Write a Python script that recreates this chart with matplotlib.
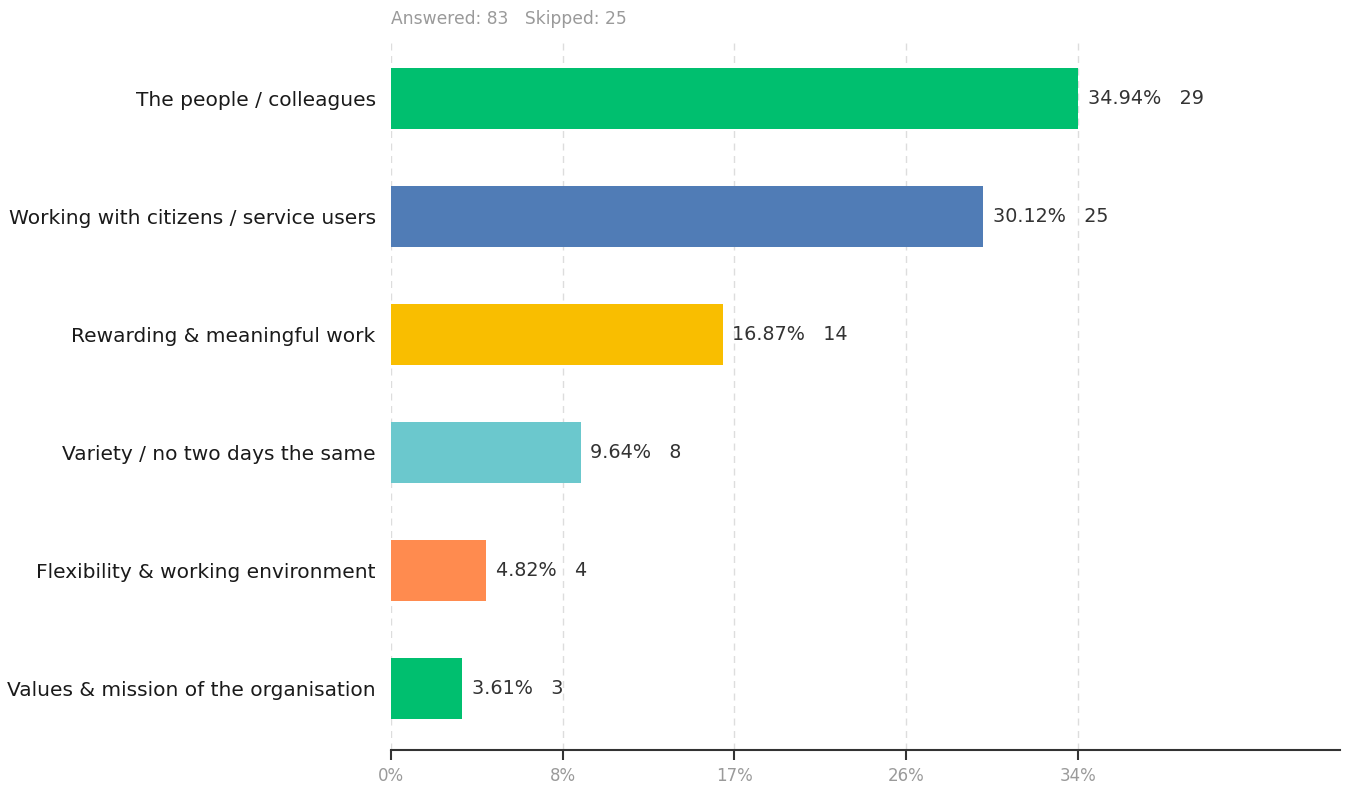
import matplotlib
matplotlib.use("Agg")
import matplotlib.pyplot as plt
import numpy as np

plt.rcParams['font.family'] = ['DejaVu Sans']

categories = [
    "The people / colleagues",
    "Working with citizens / service users",
    "Rewarding & meaningful work",
    "Variety / no two days the same",
    "Flexibility & working environment",
    "Values & mission of the organisation",
]
percentages = [34.94, 30.12, 16.87, 9.64, 4.82, 3.61]
counts = [29, 25, 14, 8, 4, 3]
colors = ["#00BF6F", "#507CB6", "#F9BE00", "#6BC8CD", "#FF8B4F", "#00BF6F"]
tick_values = [0, 34.94 / 4, 34.94 / 2, 34.94 * 3 / 4, 34.94]
tick_labels = ["0%", "8%", "17%", "26%", "34%"]
answered, skipped = 83, 25

fig = plt.figure(figsize=(13.46, 7.85), dpi=100)
ax = fig.add_axes([0.2905, 0.0446, 0.7050, 0.9070])

y = np.arange(len(categories))
ax.barh(y, percentages, height=0.517, color=colors, zorder=3)

for yi, p, c in zip(y, percentages, counts):
    ax.text(p + 0.5, yi, f"{p:.2f}%   {c}", va="center", ha="left",
            fontsize=13.8, color="#333333", zorder=4)

ax.set_xlim(0, 48.27)
ax.set_ylim(5.525, -0.515)
ax.set_yticks(y)
ax.set_yticklabels(categories, fontsize=14.5, color="#1a1a1a")
ax.tick_params(axis="y", length=0, pad=11)

ax.set_xticks(tick_values)
ax.set_xticklabels(tick_labels, fontsize=12, color="#9a9a9a")
ax.tick_params(axis="x", length=7, width=1.5, color="#333333", pad=5,
               direction="out")

ax.grid(axis="x", linestyle=(0, (5, 4)), color="#dddddd", linewidth=1, zorder=0)
ax.grid(axis="y", visible=False)

for side in ("top", "right", "left"):
    ax.spines[side].set_visible(False)
ax.spines["bottom"].set_color("#333333")
ax.spines["bottom"].set_linewidth(1.5)

fig.text(391 / 1346, 1 - 19 / 785, f"Answered: {answered}   Skipped: {skipped}",
         fontsize=12.3, color="#9a9a9a", ha="left", va="center")

fig.savefig("out.png", dpi=100)
